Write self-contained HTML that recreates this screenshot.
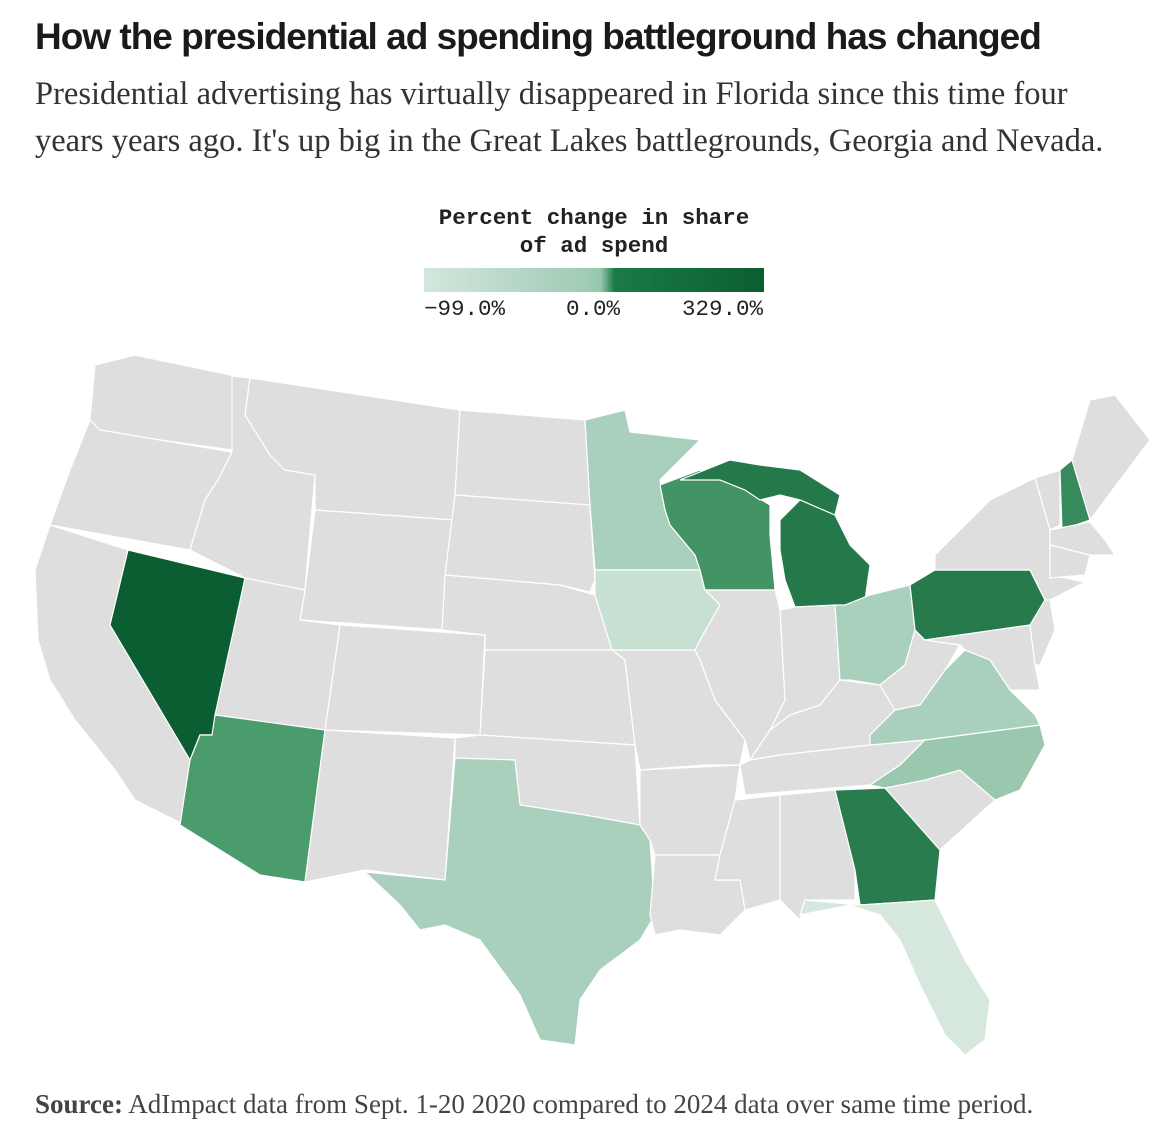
<!DOCTYPE html>
<html><head><meta charset="utf-8">
<style>
body{margin:0;width:1176px;height:1146px;background:#fff;overflow:hidden;font-family:"Liberation Sans",sans-serif;color:#222;}
#title{position:absolute;left:35px;top:16px;font-size:37px;font-weight:bold;letter-spacing:-1px;color:#1a1a1a;white-space:nowrap;}
#sub{position:absolute;left:35px;top:71px;font-family:"Liberation Serif",serif;font-size:32.5px;line-height:47px;color:#333;width:1070px;}
#src{position:absolute;left:35px;top:1089px;font-family:"Liberation Serif",serif;font-size:27px;color:#444;white-space:nowrap;}
#legend-title{position:absolute;left:344px;width:500px;top:204px;text-align:center;font-family:"Liberation Mono",monospace;font-weight:bold;font-size:22.5px;line-height:28px;color:#222;}
#bar{position:absolute;left:424px;top:268px;width:340px;height:24px;background:linear-gradient(90deg,#d3e7dc 0%,#9fcbb4 48%,#96c6ad 52%,#1b7a49 56%,#0a5e32 100%);}
.tk{position:absolute;top:296px;font-family:"Liberation Mono",monospace;font-size:22.5px;color:#222;}
svg{position:absolute;left:0;top:0;}
</style></head><body>
<div id="title">How the presidential ad spending battleground has changed</div>
<div id="sub">Presidential advertising has virtually disappeared in Florida since this time four years years ago. It's up big in the Great Lakes battlegrounds, Georgia and Nevada.</div>
<div id="legend-title">Percent change in share<br>of ad spend</div>
<div id="bar"></div>
<div class="tk" style="left:424px">−99.0%</div>
<div class="tk" style="left:566px">0.0%</div>
<div class="tk" style="left:682px">329.0%</div>
<svg id="map" width="1176" height="1146"></svg>
<div id="src"><b>Source:</b> AdImpact data from Sept. 1-20 2020 compared to 2024 data over same time period.</div>
<script>
const stateCodes=["NV","MI","PA","GA","NH","WI","AZ","NC","VA","TX","MN","OH","IA","FL"];
const changeValues=[329,200,190,180,110,60,20,-5,-30,-30,-30,-30,-75,-99];
const shapes={
WA:[[95,365],[135,355],[245,378],[232,450],[160,440],[100,430],[90,420]],
OR:[[90,420],[100,430],[160,440],[232,452],[218,480],[205,500],[190,550],[50,525],[70,470]],
CA:[[50,525],[128,550],[110,625],[190,760],[185,825],[135,800],[115,770],[75,720],[50,680],[38,640],[35,570]],
NV:[[128,550],[245,578],[215,735],[200,735],[190,760],[110,625]],
ID:[[232,376],[250,378],[245,415],[270,455],[285,470],[315,475],[305,590],[245,578],[190,550],[205,500],[218,480],[232,452]],
MT:[[250,378],[460,410],[455,520],[315,510],[315,475],[285,470],[270,455],[245,415]],
WY:[[315,510],[455,520],[445,630],[300,620],[305,590]],
UT:[[245,578],[305,590],[300,620],[340,625],[325,730],[215,715]],
AZ:[[215,715],[325,730],[305,882],[260,875],[180,825],[190,760],[200,735],[212,735]],
CO:[[340,625],[485,635],[480,735],[325,730]],
NM:[[325,730],[455,738],[445,880],[365,870],[305,882]],
ND:[[460,410],[585,420],[590,505],[455,495]],
SD:[[455,495],[590,505],[595,580],[590,592],[560,585],[445,575]],
NE:[[445,575],[560,585],[595,595],[612,650],[485,650],[485,635],[442,630]],
KS:[[485,650],[612,650],[625,660],[635,745],[480,735]],
OK:[[455,738],[480,735],[635,745],[640,825],[585,815],[520,805],[515,760],[455,758]],
TX:[[455,758],[515,760],[520,805],[585,815],[640,825],[650,840],[655,915],[640,940],[600,970],[580,1000],[575,1045],[540,1040],[520,995],[480,940],[445,925],[420,930],[400,905],[365,872],[445,880]],
MN:[[585,420],[625,410],[630,432],[700,440],[660,480],[665,510],[670,525],[695,555],[700,570],[595,570],[590,505]],
IA:[[595,570],[700,570],[705,590],[720,605],[700,640],[695,650],[612,650],[595,595]],
MO:[[612,650],[695,650],[700,660],[715,700],[745,740],[740,765],[705,765],[640,770],[635,745],[625,660]],
AR:[[640,770],[740,765],[735,800],[720,855],[655,855],[650,840],[640,825]],
LA:[[655,855],[720,855],[715,880],[740,880],[745,910],[720,935],[680,930],[655,935],[650,915]],
WI:[[660,485],[700,470],[720,480],[745,490],[770,505],[770,535],[775,590],[705,590],[700,570],[695,555],[670,525],[665,510]],
IL:[[705,590],[775,590],[780,610],[785,700],[770,730],[750,760],[745,740],[715,700],[700,660],[695,650],[700,640],[720,605]],
MI:[[780,520],[800,500],[830,505],[850,545],[870,565],[865,600],[845,605],[795,607],[785,580],[780,550]],
MIU:[[680,480],[730,460],[760,465],[800,470],[840,495],[835,515],[800,500],[780,495],[760,500],[745,490],[720,480]],
IN:[[780,610],[795,607],[835,605],[840,680],[820,705],[790,715],[770,730],[785,700]],
OH:[[835,605],[845,605],[870,595],[910,585],[915,630],[905,665],[880,685],[850,680],[840,680]],
KY:[[770,730],[790,715],[820,705],[840,680],[880,685],[895,710],[870,735],[870,745],[780,755],[750,760]],
TN:[[750,760],[780,755],[870,745],[925,740],[900,765],[870,785],[745,795],[740,765]],
MS:[[735,800],[780,795],[780,900],[745,910],[740,880],[715,880],[720,855]],
AL:[[780,795],[835,790],[855,870],[855,900],[805,900],[800,920],[780,900]],
GA:[[835,790],[885,788],[940,850],[935,900],[860,905],[855,870]],
FL:[[805,900],[860,905],[935,900],[965,960],[990,1000],[985,1040],[965,1055],[945,1035],[920,985],[900,940],[880,915],[850,905],[800,915]],
SC:[[885,788],[925,780],[960,770],[995,800],[940,850]],
NC:[[870,785],[900,765],[925,740],[1040,725],[1045,745],[1020,790],[995,800],[960,770],[925,780],[885,788]],
VA:[[870,735],[895,710],[920,705],[945,670],[965,650],[990,660],[1010,690],[1035,715],[1040,725],[925,740],[870,745]],
WV:[[880,685],[905,665],[915,630],[925,640],[960,645],[945,670],[920,705],[895,710]],
PA:[[910,585],[935,570],[1030,570],[1045,600],[1030,625],[925,640],[915,630]],
NY:[[935,570],[935,555],[990,500],[1035,478],[1050,530],[1050,575],[1085,582],[1050,600],[1045,600],[1030,570]],
MD:[[925,640],[1030,625],[1035,665],[1040,690],[1010,690],[990,660],[965,650],[960,645]],
NJ:[[1030,625],[1045,600],[1050,600],[1055,630],[1040,665],[1035,665]],
VT:[[1035,478],[1060,470],[1060,525],[1050,530]],
NH:[[1060,470],[1072,460],[1090,520],[1062,530]],
ME:[[1072,460],[1090,400],[1115,395],[1150,440],[1120,480],[1090,520]],
MA:[[1050,530],[1090,522],[1105,540],[1115,555],[1090,555],[1050,545]],
CT:[[1050,545],[1090,555],[1085,575],[1050,578]]
};
function colorFor(v){
  const stops=[[-99,[214,232,222]],[0,[150,198,173]],[0.01,[78,160,112]],[329,[10,94,50]]];
  for(let i=0;i<stops.length-1;i++){
    const a=stops[i],b=stops[i+1];
    if(v<=b[0]){const t=Math.max(0,(v-a[0])/(b[0]-a[0]));
      return 'rgb('+a[1].map((c,k)=>Math.round(c+(b[1][k]-c)*t)).join(',')+')';}
  }
  return 'rgb(10,94,50)';
}
const svg=document.getElementById('map');
const NS='http://www.w3.org/2000/svg';
for(const code in shapes){
  const key=code==='MIU'?'MI':code;
  const idx=stateCodes.indexOf(key);
  const p=document.createElementNS(NS,'polygon');
  p.setAttribute('points',shapes[code].map(q=>q.join(',')).join(' '));
  p.setAttribute('fill',idx>=0?colorFor(changeValues[idx]):'#dedede');
  p.setAttribute('stroke','#fff');
  p.setAttribute('stroke-width','1.2');
  
  
  svg.appendChild(p);
}
</script>
</body></html>
